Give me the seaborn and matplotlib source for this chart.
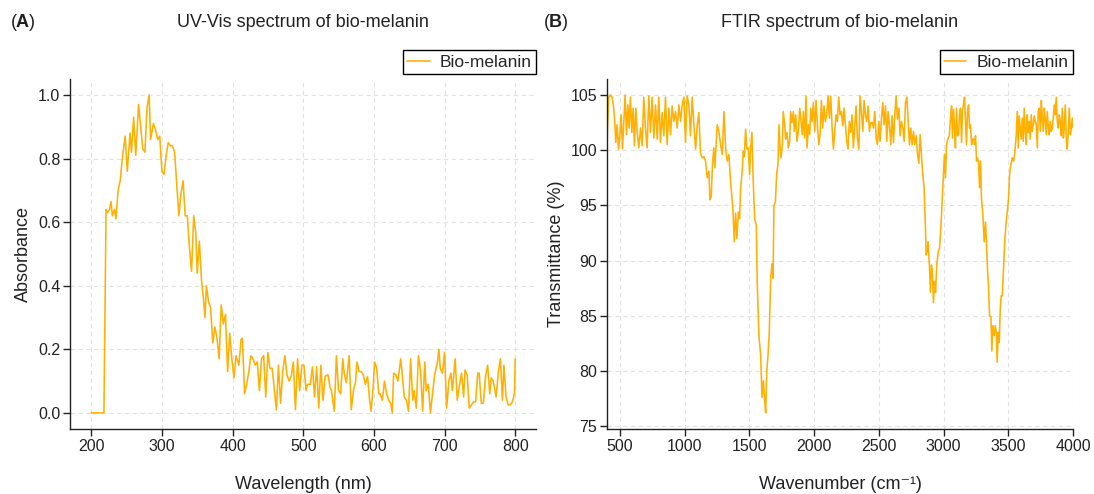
import numpy as np
import pandas as pd
import matplotlib
matplotlib.use("Agg")
import matplotlib.pyplot as plt
import seaborn as sns

# UV-Vis spectrum
uv_nm = [
    200, 218, 221, 223, 226, 228, 230, 233, 235, 238,
    241, 244, 248, 251, 255, 257, 260, 263, 267, 270,
    273, 276, 279, 282, 284, 288, 291, 294, 297, 300,
    303, 306, 309, 312, 315, 318, 321, 324, 327, 330,
    333, 336, 339, 342, 345, 348, 350, 353, 356, 359,
    361, 363, 366, 369, 372, 375, 378, 381, 384, 387,
    390, 393, 396, 399, 402, 405, 409, 412, 414, 417,
    420, 423, 426, 429, 432, 435, 438, 441, 444, 447,
    450, 453, 456, 458, 462, 465, 468, 471, 474, 477,
    480, 483, 486, 489, 492, 495, 498, 501, 504, 506,
    510, 513, 516, 519, 522, 525, 528, 531, 535, 538,
    540, 544, 547, 550, 553, 556, 558, 561, 565, 568,
    571, 574, 576, 579, 582, 585, 588, 591, 594, 596,
    599, 601, 604, 607, 609, 612, 615, 618, 621, 624,
    626, 628, 631, 634, 638, 640, 643, 646, 649, 652,
    655, 657, 660, 663, 666, 669, 672, 674, 677, 680,
    683, 686, 690, 692, 694, 697, 700, 703, 706, 709,
    711, 715, 718, 721, 724, 727, 729, 732, 735, 738,
    741, 744, 747, 749, 752, 755, 758, 761, 764, 766,
    769, 773, 776, 779, 782, 784, 787, 790, 793, 796,
    799, 800,
]
uv_abs = [
    0.0, 0.0, 0.64, 0.63, 0.64, 0.665, 0.62, 0.64, 0.61, 0.70,
    0.73, 0.80, 0.87, 0.76, 0.88, 0.82, 0.93, 0.81, 0.97, 0.90,
    0.83, 0.82, 0.96, 1.00, 0.86, 0.91, 0.89, 0.86, 0.87, 0.76,
    0.75, 0.81, 0.85, 0.84, 0.84, 0.82, 0.72, 0.62, 0.69, 0.73,
    0.62, 0.62, 0.52, 0.445, 0.62, 0.565, 0.44, 0.54, 0.42, 0.355,
    0.30, 0.40, 0.35, 0.33, 0.22, 0.27, 0.235, 0.17, 0.34, 0.28,
    0.31, 0.13, 0.25, 0.17, 0.11, 0.18, 0.15, 0.23, 0.235, 0.06,
    0.09, 0.13, 0.18, 0.17, 0.15, 0.16, 0.07, 0.17, 0.18, 0.05,
    0.19, 0.14, 0.14, 0.10, 0.01, 0.15, 0.03, 0.13, 0.18, 0.12,
    0.10, 0.115, 0.16, 0.01, 0.17, 0.07, 0.15, 0.15, 0.07, 0.09,
    0.09, 0.145, 0.05, 0.145, 0.015, 0.15, 0.04, 0.115, 0.12, 0.08,
    0.07, 0.005, 0.18, 0.07, 0.06, 0.17, 0.125, 0.095, 0.18, 0.01,
    0.07, 0.095, 0.16, 0.13, 0.13, 0.12, 0.09, 0.115, 0.04, 0.005,
    0.08, 0.16, 0.14, 0.06, 0.06, 0.04, 0.10, 0.06, 0.04, 0.03,
    0.0, 0.125, 0.12, 0.10, 0.17, 0.125, 0.05, 0.04, 0.005, 0.17,
    0.04, 0.07, 0.015, 0.18, 0.135, 0.005, 0.16, 0.07, 0.09, 0.0,
    0.06, 0.12, 0.16, 0.20, 0.14, 0.125, 0.19, 0.015, 0.10, 0.125,
    0.07, 0.17, 0.04, 0.085, 0.125, 0.05, 0.135, 0.12, 0.015, 0.025,
    0.035, 0.035, 0.125, 0.125, 0.03, 0.03, 0.115, 0.15, 0.06, 0.11,
    0.10, 0.05, 0.125, 0.17, 0.04, 0.15, 0.05, 0.025, 0.025, 0.035,
    0.06, 0.17,
]

# FTIR spectrum
ftir_wn = [
    402, 415, 428, 441, 454, 461, 469, 479, 490, 500,
    510, 521, 531, 541, 552, 562, 572, 582, 593, 603,
    613, 624, 634, 647, 660, 673, 685, 698, 711, 724,
    737, 750, 763, 776, 789, 801, 814, 827, 840, 853,
    866, 879, 892, 904, 917, 930, 943, 956, 969, 982,
    995, 1007, 1020, 1033, 1046, 1059, 1072, 1085, 1098, 1110,
    1123, 1136, 1149, 1162, 1175, 1188, 1196, 1206, 1216, 1226,
    1234, 1242, 1252, 1265, 1278, 1291, 1304, 1317, 1329, 1342,
    1355, 1363, 1373, 1384, 1394, 1404, 1415, 1425, 1433, 1445,
    1453, 1461, 1471, 1481, 1492, 1502, 1510, 1520, 1530, 1541,
    1554, 1561, 1574, 1587, 1598, 1608, 1618, 1626, 1634, 1644,
    1654, 1665, 1675, 1683, 1690, 1701, 1711, 1721, 1729, 1737,
    1744, 1755, 1762, 1773, 1780, 1791, 1801, 1811, 1819, 1829,
    1840, 1847, 1858, 1868, 1878, 1889, 1899, 1909, 1917, 1927,
    1938, 1945, 1956, 1966, 1974, 1984, 1994, 2005, 2015, 2025,
    2036, 2046, 2056, 2066, 2077, 2087, 2097, 2108, 2118, 2128,
    2139, 2149, 2159, 2169, 2180, 2190, 2200, 2211, 2221, 2231,
    2242, 2252, 2262, 2272, 2283, 2293, 2303, 2314, 2324, 2334,
    2345, 2355, 2365, 2376, 2386, 2396, 2406, 2417, 2427, 2437,
    2448, 2458, 2468, 2479, 2489, 2499, 2509, 2520, 2530, 2540,
    2551, 2561, 2571, 2582, 2592, 2602, 2613, 2623, 2633, 2643,
    2654, 2664, 2674, 2685, 2695, 2705, 2716, 2726, 2736, 2746,
    2757, 2767, 2777, 2788, 2798, 2808, 2819, 2829, 2839, 2849,
    2857, 2865, 2873, 2880, 2891, 2898, 2906, 2914, 2921, 2929,
    2937, 2947, 2958, 2968, 2978, 2988, 2999, 3006, 3014, 3022,
    3032, 3043, 3053, 3061, 3068, 3076, 3084, 3091, 3099, 3107,
    3115, 3122, 3130, 3138, 3146, 3153, 3161, 3169, 3176, 3184,
    3192, 3200, 3207, 3215, 3223, 3231, 3238, 3246, 3254, 3261,
    3269, 3277, 3285, 3292, 3303, 3313, 3323, 3331, 3339, 3346,
    3354, 3365, 3372, 3380, 3390, 3398, 3406, 3413, 3421, 3429,
    3437, 3444, 3452, 3460, 3470, 3480, 3491, 3501, 3509, 3519,
    3529, 3540, 3550, 3560, 3568, 3576, 3583, 3591, 3599, 3607,
    3614, 3622, 3630, 3638, 3645, 3653, 3661, 3668, 3676, 3684,
    3692, 3699, 3707, 3715, 3723, 3730, 3738, 3746, 3754, 3761,
    3769, 3777, 3784, 3792, 3800, 3808, 3815, 3823, 3831, 3839,
    3846, 3854, 3862, 3869, 3877, 3885, 3893, 3900, 3908, 3916,
    3924, 3931, 3939, 3947, 3954, 3962, 3970, 3978, 3985, 3993,
    4000,
]
ftir_t = [
    101.0, 104.8, 105.0, 104.8, 103.7, 102.6, 100.7, 102.3, 100.1, 101.3,
    103.2, 100.1, 102.6, 105.0, 101.4, 104.1, 102.0, 104.8, 101.6, 103.8,
    100.4, 103.8, 101.7, 100.2, 102.0, 100.4, 104.8, 102.0, 100.2, 104.9,
    101.6, 104.8, 101.1, 104.1, 101.0, 104.8, 100.7, 103.4, 101.3, 104.8,
    100.5, 103.8, 101.4, 104.0, 102.6, 103.5, 102.0, 104.1, 102.6, 104.1,
    104.8, 100.7, 104.9, 104.1, 101.3, 104.8, 102.3, 100.1, 102.3, 103.4,
    99.7, 99.3, 99.4, 99.0, 97.5, 98.1, 95.5, 95.8, 98.8, 100.2,
    98.4, 100.2, 102.3, 101.7, 100.5, 99.6, 103.5, 100.2, 99.0, 99.6,
    97.2, 96.1, 94.7, 91.7, 94.3, 92.0, 94.4, 93.8, 96.6, 98.1,
    99.9, 99.4, 101.9, 100.1, 100.2, 97.8, 100.2, 101.6, 97.2, 93.8,
    93.2, 88.0, 83.2, 81.5, 77.6, 79.1, 77.4, 76.2, 79.9, 81.4,
    83.5, 88.4, 89.7, 88.4, 95.0, 95.3, 97.8, 98.7, 102.3, 100.2,
    99.3, 100.5, 103.5, 102.3, 101.0, 101.6, 100.2, 100.8, 103.5, 102.5,
    103.5, 101.7, 103.2, 100.8, 101.7, 103.8, 102.6, 101.4, 103.5, 101.1,
    104.9, 100.2, 102.3, 101.4, 103.8, 102.6, 104.3, 101.7, 104.5, 102.3,
    100.5, 101.4, 104.5, 102.0, 104.0, 102.6, 103.2, 104.9, 102.9, 104.9,
    102.0, 100.1, 101.6, 103.2, 102.6, 104.8, 103.2, 103.5, 102.2, 103.8,
    102.2, 100.8, 100.1, 102.6, 101.6, 103.2, 100.2, 102.3, 104.0, 101.1,
    100.1, 104.9, 103.5, 101.7, 104.5, 103.2, 102.6, 104.0, 101.7, 102.5,
    102.5, 102.0, 103.5, 101.1, 100.5, 102.6, 100.8, 102.9, 104.3, 102.3,
    104.0, 100.8, 103.5, 102.2, 100.5, 103.1, 100.7, 103.2, 104.9, 102.8,
    103.8, 101.3, 102.6, 102.0, 100.8, 104.3, 104.8, 102.6, 100.5, 102.0,
    100.5, 101.7, 100.5, 101.3, 99.7, 98.8, 101.4, 99.4, 97.8, 96.6,
    93.8, 90.5, 90.8, 91.7, 89.3, 87.1, 89.6, 88.7, 86.2, 88.1,
    87.1, 89.6, 90.8, 91.1, 92.9, 95.3, 98.1, 99.6, 97.5, 100.5,
    101.0, 101.3, 102.9, 104.0, 101.1, 103.7, 102.0, 100.2, 103.8, 101.3,
    101.4, 103.2, 103.8, 100.7, 103.7, 104.1, 104.8, 102.6, 100.5, 103.4,
    104.1, 102.0, 102.3, 100.5, 101.0, 101.0, 100.5, 101.3, 99.0, 99.3,
    99.0, 96.6, 99.0, 95.6, 94.1, 91.7, 93.5, 91.4, 89.0, 87.8,
    85.0, 84.9, 81.8, 84.1, 83.2, 84.1, 83.5, 80.8, 83.5, 82.6,
    85.6, 86.8, 86.8, 88.7, 91.4, 93.2, 94.4, 95.6, 97.8, 98.7,
    99.3, 99.0, 99.9, 101.3, 103.5, 100.2, 103.1, 102.0, 101.0, 102.9,
    100.8, 103.8, 101.7, 100.5, 103.2, 101.6, 102.6, 101.0, 103.2, 101.7,
    102.3, 103.1, 102.6, 102.3, 100.2, 103.5, 103.8, 101.7, 104.5, 102.9,
    101.7, 103.8, 102.9, 101.4, 103.5, 102.0, 101.4, 102.6, 101.7, 102.0,
    102.9, 104.1, 103.2, 104.8, 102.6, 102.0, 103.2, 102.6, 101.3, 103.8,
    101.1, 102.0, 104.1, 100.8, 100.1, 101.7, 103.8, 101.4, 102.0, 102.9,
    102.0,
]

uv_ticks = [200, 300, 400, 500, 600, 700, 800]
uv_yticks = [0.0, 0.2, 0.4, 0.6, 0.8, 1.0]
ftir_ticks = [500, 1000, 1500, 2000, 2500, 3000, 3500, 4000]
ftir_yticks = [75, 80, 85, 90, 95, 100, 105]

line_color = "#FFB000"
series_name = "Bio-melanin"

uv = pd.DataFrame({"Wavelength (nm)": uv_nm, "Absorbance": uv_abs})
ftir = pd.DataFrame({"Wavenumber": ftir_wn, "Transmittance (%)": ftir_t})

sns.set_theme(style="ticks")
plt.rcParams["font.family"] = ["Liberation Sans", "DejaVu Sans"]
plt.rcParams["mathtext.fontset"] = "custom"
plt.rcParams["mathtext.rm"] = "Liberation Sans"
plt.rcParams["mathtext.bf"] = "Liberation Sans:bold"

fig, axes = plt.subplots(1, 2, figsize=(10.94, 4.94), dpi=100)
fig.subplots_adjust(left=0.064, right=0.981, bottom=0.132, top=0.840, wspace=0.151)

panels = [
    (axes[0], uv, "Wavelength (nm)", "Absorbance", "UV-Vis spectrum of bio-melanin",
     "Wavelength (nm)", uv_ticks, uv_yticks, "A", 0.009),
    (axes[1], ftir, "Wavenumber", "Transmittance (%)", "FTIR spectrum of bio-melanin",
     "Wavenumber (cm\u207b\u00b9)", ftir_ticks, ftir_yticks, "B", 0.4968),
]

for ax, df, xcol, ycol, title, xlabel, xt, yt, letter, fx in panels:
    sns.lineplot(data=df, x=xcol, y=ycol, ax=ax, color=line_color,
                 linewidth=1.15, label=series_name)
    ax.set_xticks(xt)
    ax.set_yticks(yt)
    ax.grid(True, linestyle=(0, (4, 3)), color="#e2e2e2", linewidth=0.8)
    ax.set_axisbelow(True)
    sns.despine(ax=ax)
    for s in ["left", "bottom"]:
        ax.spines[s].set_color("#222222")
        ax.spines[s].set_linewidth(1.0)
    ax.tick_params(direction="out", length=5, width=1, color="#222222",
                   labelsize=11.5, pad=2, labelcolor="#222222")
    ax.set_xlabel(xlabel, fontsize=13, labelpad=16, color="#222222")
    ax.set_ylabel(ycol, fontsize=13, labelpad=4, color="#222222")
    ax.text(0.5, 1.163, title, transform=ax.transAxes, ha="center", va="center",
            fontsize=13, color="#222222")
    fig.text(fx, 0.955, "(" + r"$\mathbf{" + letter + "}$" + ")", ha="left",
             va="center", fontsize=13, color="#222222")
    leg = ax.legend(loc="lower right", bbox_to_anchor=(1.0, 1.014), borderaxespad=0,
                    frameon=True, fancybox=False, edgecolor="black", framealpha=1,
                    fontsize=12.5, borderpad=0.25, handlelength=1.3,
                    handletextpad=0.6)
    leg.get_frame().set_linewidth(1.0)

axes[1].set_xlim(400, 4000)

fig.savefig("out.png", dpi=100)
